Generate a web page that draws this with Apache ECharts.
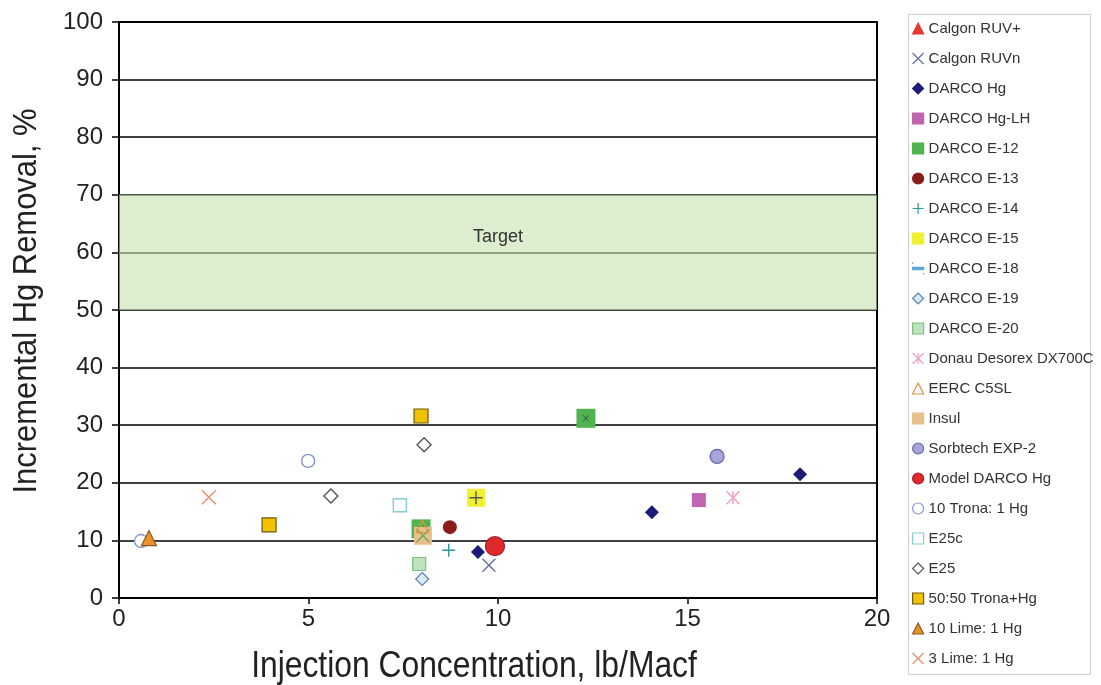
<!DOCTYPE html>
<html>
<head>
<meta charset="utf-8">
<script src="https://cdn.jsdelivr.net/npm/echarts@6/dist/echarts.min.js"></script>
<style>html,body{margin:0;padding:0;background:#fff;}#c{width:1101px;height:685px;}</style>
</head>
<body>
<div id="c"></div>
<script>
// ---- data (x = injection concentration lb/Macf, y = incremental Hg removal %) ----
const seriesNames = ['Calgon RUV+','Calgon RUVn','DARCO Hg','DARCO Hg-LH','DARCO E-12','DARCO E-13','DARCO E-14','DARCO E-15','DARCO E-18','DARCO E-19','DARCO E-20','Donau Desorex DX700C','EERC C5SL','Insul','Sorbtech EXP-2','Model DARCO Hg','10 Trona: 1 Hg','E25c','E25','50:50 Trona+Hg','10 Lime: 1 Hg','3 Lime: 1 Hg'];
const calgonRUVplus = [];
const calgonRUVn = [[9.76, 5.7]];
const darcoHg = [[9.47, 8.0], [14.06, 14.9], [17.97, 21.5]];
const darcoHgLH = [[15.3, 17.0]];
const darcoE12 = [[7.97, 12.0], [12.32, 31.2]];
const darcoE13 = [[8.73, 12.3]];
const darcoE14 = [[8.7, 8.3]];
const darcoE15 = [[9.42, 17.4]];
const darcoE18 = [];
const darcoE19 = [[8.0, 3.3]];
const darcoE20 = [[7.92, 5.9]];
const donau = [[16.2, 17.4]];
const eercC5SL = [[8.0, 12.4]];
const insul = [[8.02, 10.8]];
const sorbtech = [[15.78, 24.6]];
const modelDarcoHg = [[9.92, 9.0]];
const trona10 = [[0.58, 9.9], [4.99, 23.8]];
const e25c = [[7.41, 16.1]];
const e25 = [[5.59, 17.7], [8.05, 26.6]];
const trona5050 = [[3.96, 12.7], [7.97, 31.6]];
const lime10 = [[0.79, 10.4]];
const lime3 = [[2.37, 17.5]];
const targetRange = [50, 70];
const xTicks = {min: 0, max: 20, interval: 5};
const yTicks = {min: 0, max: 100, interval: 10};
const xAxisTitle = 'Injection Concentration, lb/Macf';
const yAxisTitle = 'Incremental Hg Removal, %';

const FONT = '"Liberation Sans", Arial, sans-serif';
const X_PATH = 'path://M0,0L10,10M10,0L0,10';
const PLUS_PATH = 'path://M5,0L5,10M0,5L10,5';
const AST_PATH = 'path://M0,0L10,10M10,0L0,10M5,0L5,10';
const DASH_PATH = 'path://M0,0L0.01,0L0,0.01Z M0,4L10,4L10,6L0,6Z M10,10L9.99,10L10,9.99Z';

function sc(name, data, symbol, size, fill, stroke, bw, z) {
  return {
    type: 'scatter', name: name, data: data, symbol: symbol, symbolSize: size,
    itemStyle: {color: fill, borderColor: stroke, borderWidth: bw, opacity: 1},
    z: z || 3, emphasis: {disabled: true}
  };
}

const series = [
  sc('Calgon RUV+', calgonRUVplus, 'triangle', 13, '#e23a2e', '#e23a2e', 0),
  sc('Calgon RUVn', calgonRUVn, X_PATH, 13, '#6a6aa8', '#6a6aa8', 1.4),
  sc('DARCO Hg', darcoHg, 'diamond', 14, '#1c1c78', '#1c1c78', 0),
  sc('DARCO Hg-LH', darcoHgLH, 'rect', 14, '#c066b0', '#c066b0', 0),
  sc('DARCO E-12', darcoE12, 'rect', 19, '#4fb44f', '#4fb44f', 0, 2),
  sc('DARCO E-13', darcoE13, 'circle', 14, '#8b1c1c', '#8b1c1c', 0),
  sc('DARCO E-14', darcoE14, PLUS_PATH, 13, '#2a9a9a', '#2a9a9a', 1.4),
  sc('DARCO E-15', darcoE15, 'rect', 18, '#f0f030', '#f0f030', 0),
  sc('DARCO E-18', darcoE18, DASH_PATH, 11, '#5aa8d8', '#5aa8d8', 0),
  sc('DARCO E-19', darcoE19, 'diamond', 13, '#d8eaf4', '#5a86b0', 1.2),
  sc('DARCO E-20', darcoE20, 'rect', 13, '#bfe3bf', '#7cbf7c', 1.2),
  sc('Donau Desorex DX700C', donau, AST_PATH, 13, '#f0a0c0', '#f0a0c0', 1.4),
  sc('EERC C5SL', eercC5SL, 'triangle', 12, 'rgba(255,255,255,0)', '#e09040', 1.3, 5),
  sc('Insul', insul, 'rect', 18, '#e8c08c', '#e8c08c', 0, 4),
  sc('Sorbtech EXP-2', sorbtech, 'circle', 14, '#a8a4dc', '#6a66a8', 1.3),
  sc('Model DARCO Hg', modelDarcoHg, 'circle', 19, '#e02a2a', '#a81a30', 1.3),
  sc('10 Trona: 1 Hg', trona10, 'circle', 13, '#ffffff', '#8494d0', 1.4),
  sc('E25c', e25c, 'rect', 13, '#ffffff', '#88ccd4', 1.4),
  sc('E25', e25, 'diamond', 14, '#ffffff', '#555555', 1.4),
  sc('50:50 Trona+Hg', trona5050, 'rect', 14, '#f2c200', '#6b5a10', 1.2),
  sc('10 Lime: 1 Hg', lime10, 'triangle', 15, '#e8922c', '#8a5a20', 1.2),
  sc('3 Lime: 1 Hg', lime3, X_PATH, 14, '#e8906a', '#e8906a', 1.4),
  // inner marks of composite symbols (not in legend)
  sc('_e12mark', darcoE12, X_PATH, 6, '#444', '#444', 1, 3),
  sc('_e15mark', darcoE15, PLUS_PATH, 13, '#555', '#555', 1.4),
  sc('_insulmark', insul, X_PATH, 13, '#6aaa6a', '#6aaa6a', 1.4, 4),
  {
    type: 'scatter', name: '_target', data: [], z: 1,
    markArea: {
      silent: true,
      itemStyle: {color: 'rgba(197,225,177,0.6)'},
      label: {show: true, position: 'inside', offset: [0, -15], formatter: 'Target', fontSize: 18, color: '#333', fontFamily: FONT},
      data: [[{yAxis: targetRange[0]}, {yAxis: targetRange[1]}]]
    }
  }
];

const chart = echarts.init(document.getElementById('c'), null, {renderer: 'canvas'});
chart.setOption({
  animation: false,
  backgroundColor: '#fff',
  textStyle: {fontFamily: FONT},
  grid: {left: 119, right: 224, top: 22, bottom: 87, show: true, borderColor: '#000', borderWidth: 2, backgroundColor: 'transparent'},
  xAxis: {
    type: 'value', min: xTicks.min, max: xTicks.max, interval: xTicks.interval,
    axisLine: {show: true, lineStyle: {color: '#000', width: 2}},
    axisTick: {show: true, length: 6, lineStyle: {color: '#000', width: 1.5}},
    axisLabel: {fontSize: 24, color: '#222', margin: 9, fontFamily: FONT},
    splitLine: {show: false}
  },
  yAxis: {
    type: 'value', min: yTicks.min, max: yTicks.max, interval: yTicks.interval,
    axisLine: {show: true, lineStyle: {color: '#000', width: 2}},
    axisTick: {show: true, length: 7, lineStyle: {color: '#000', width: 1.5}},
    axisLabel: {fontSize: 24, color: '#222', margin: 16, fontFamily: FONT},
    splitLine: {show: true, lineStyle: {color: '#000', width: 1.5}}
  },
  graphic: [{
    type: 'rect', left: 906, top: 12, z: 0, silent: true,
    shape: {width: 182, height: 660},
    style: {fill: 'none', stroke: '#cfcfcf', lineWidth: 1}
  }, {
    type: 'text', x: 474, y: 667, scaleX: 0.86, silent: true,
    style: {text: xAxisTitle, fontSize: 37, fontFamily: FONT, fill: '#222', align: 'center', verticalAlign: 'middle'}
  }, {
    type: 'text', x: 27, y: 301, rotation: Math.PI / 2, scaleX: 0.91, silent: true,
    style: {text: yAxisTitle, fontSize: 34, fontFamily: FONT, fill: '#222', align: 'center', verticalAlign: 'middle'}
  }],
  legend: {
    orient: 'vertical', left: 912, top: 21, padding: 0,
    itemWidth: 11, itemHeight: 11, itemGap: 15,
    selectedMode: false,
    itemStyle: {borderWidth: 1.2},
    textStyle: {fontSize: 15, color: '#333', fontFamily: FONT},
    data: seriesNames
  },
  series: series
});
</script>
</body>
</html>
